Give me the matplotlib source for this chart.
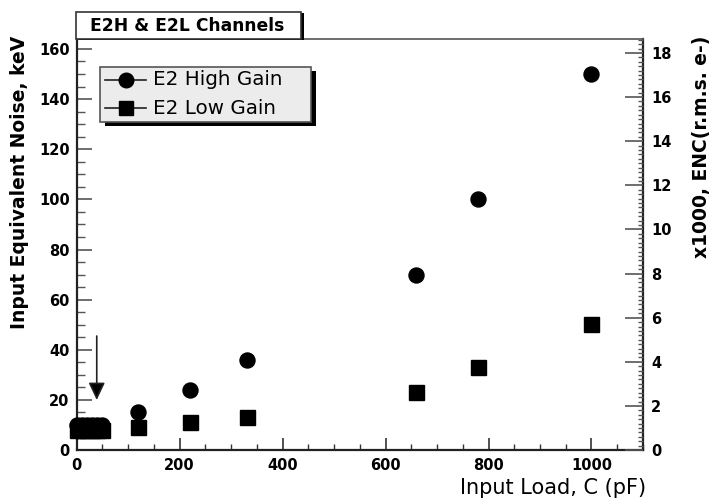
import matplotlib
matplotlib.use("Agg")
import matplotlib.pyplot as plt
from matplotlib.ticker import MultipleLocator
from matplotlib.patches import Rectangle
from matplotlib.lines import Line2D

plt.rcParams['font.family'] = ['DejaVu Sans']

# ---- data ----
load_pf = [0, 10, 20, 30, 40, 50, 120, 220, 330, 660, 780, 1000]
high_gain_kev = [10, 10, 10, 10, 10, 10, 15.3, 24, 36, 70, 100, 150]
low_gain_kev = [8, 8, 8, 8, 8, 8, 9.3, 11.3, 13.3, 23, 33.2, 50.2]
series_labels = ['E2 High Gain', 'E2 Low Gain']
series_markers = ['o', 's']
kev_per_kilo_e = 8.8          # conversion left axis -> right axis
xticks = [0, 200, 400, 600, 800, 1000]
yticks_left = [0, 20, 40, 60, 80, 100, 120, 140, 160]
yticks_right = [0, 2, 4, 6, 8, 10, 12, 14, 16, 18]
arrow_x = 39
arrow_from, arrow_to = 45.5, 20

W, H = 710, 499
fig = plt.figure(figsize=(W / 100, H / 100), dpi=100)
ax = fig.add_axes([0.108, 0.098, 0.7976, 0.823])

for yv, mk, lab in zip([high_gain_kev, low_gain_kev], series_markers, series_labels):
    ax.plot(load_pf, yv, mk, color='black', markersize=10.8, label=lab,
            clip_on=False, zorder=5)

ax.set_xlim(0, 1100)
ax.set_ylim(0, 163.8)
ax.set_xticks(xticks)
ax.set_yticks(yticks_left)
ax.xaxis.set_minor_locator(MultipleLocator(50))
ax.yaxis.set_minor_locator(MultipleLocator(5))

tick_font = dict(fontsize=10.5, fontweight='bold')
ax.set_xticklabels([str(t) for t in xticks], **tick_font)
ax.set_yticklabels([str(t) for t in yticks_left], **tick_font)

ax.tick_params(axis='x', which='major', direction='in', length=8.5, width=1.2,
               color='#333333', pad=6, top=False)
ax.tick_params(axis='x', which='minor', direction='in', length=4.3, width=1.0,
               color='#333333', top=False)
ax.tick_params(axis='y', which='major', direction='in', length=11, width=1.2,
               color='#555555', pad=5, right=False)
ax.tick_params(axis='y', which='minor', direction='in', length=5.5, width=1.0,
               color='#555555', right=False)

for s in ['left', 'bottom', 'right']:
    ax.spines[s].set_linewidth(1.6)
    ax.spines[s].set_color('#222222')
ax.spines['top'].set_linewidth(1.2)
ax.spines['top'].set_color('#555555')

ax2 = ax.twinx()
ax2.set_ylim(0, 163.8 / kev_per_kilo_e)
ax2.set_yticks(yticks_right)
ax2.set_yticklabels([str(t) for t in yticks_right], **tick_font)
ax2.yaxis.set_minor_locator(MultipleLocator(0.2))
ax2.tick_params(axis='y', which='major', direction='in', length=13, width=1.2,
                color='#555555', pad=6)
ax2.tick_params(axis='y', which='minor', direction='in', length=3.6, width=1.0,
                color='#555555')
for s in ax2.spines.values():
    s.set_visible(False)

# arrow
ax.annotate('', xy=(arrow_x, arrow_to), xytext=(arrow_x, arrow_from),
            arrowprops=dict(arrowstyle='-|>,head_width=0.5,head_length=1.05',
                            color='#444444', lw=1.2, shrinkA=0, shrinkB=0,
                            fc='black', ec='#222222'))

# axis labels
fig.text(20 / W, 1 - 182 / H, 'Input Equivalent Noise, keV', rotation=90,
         ha='center', va='center', fontsize=13.5, fontweight='bold')
fig.text(702 / W, 1 - 147 / H, 'x1000, ENC(r.m.s. e-)', rotation=90,
         ha='center', va='center', fontsize=13.5, fontweight='bold')
fig.text(646 / W, 1 - 488 / H, 'Input Load, C (pF)', ha='right', va='center',
         fontsize=15)

# title box with shadow
fig.patches.append(Rectangle((78 / W, 1 - 40 / H), 226 / W, 27 / H,
                             transform=fig.transFigure, facecolor='black',
                             edgecolor='none', zorder=1))
fig.patches.append(Rectangle((76 / W, 1 - 39 / H), 225 / W, 27 / H,
                             transform=fig.transFigure, facecolor='white',
                             edgecolor='#333333', lw=1.2, zorder=2))
fig.text(90 / W, 1 - 26 / H, 'E2H & E2L Channels', ha='left', va='center',
         fontsize=12.3, fontweight='bold', zorder=3)

# legend (drawn manually, with a hard shadow)
lx0, lx1, ly0, ly1 = 100, 311, 67, 122
fig.add_artist(Rectangle(((lx0 + 5) / W, 1 - (ly1 + 4) / H),
                         (lx1 - lx0) / W, (ly1 - ly0) / H,
                         transform=fig.transFigure, facecolor='black',
                         edgecolor='none', zorder=20))
fig.add_artist(Rectangle((lx0 / W, 1 - ly1 / H), (lx1 - lx0) / W, (ly1 - ly0) / H,
                         transform=fig.transFigure, facecolor='#ececec',
                         edgecolor='#555555', lw=1.2, zorder=21))
for row_y, mk, lab in zip([80, 108], series_markers, series_labels):
    yy = 1 - row_y / H
    fig.add_artist(Line2D([105 / W, 146 / W], [yy, yy], transform=fig.transFigure,
                          color='#222222', lw=1.2, zorder=22))
    fig.add_artist(Line2D([126 / W], [yy], transform=fig.transFigure, marker=mk,
                          color='black', markersize=10.5, zorder=23))
    fig.text(153 / W, yy, lab, ha='left', va='center', fontsize=14.3, zorder=24)

fig.savefig('out.png', dpi=100)
